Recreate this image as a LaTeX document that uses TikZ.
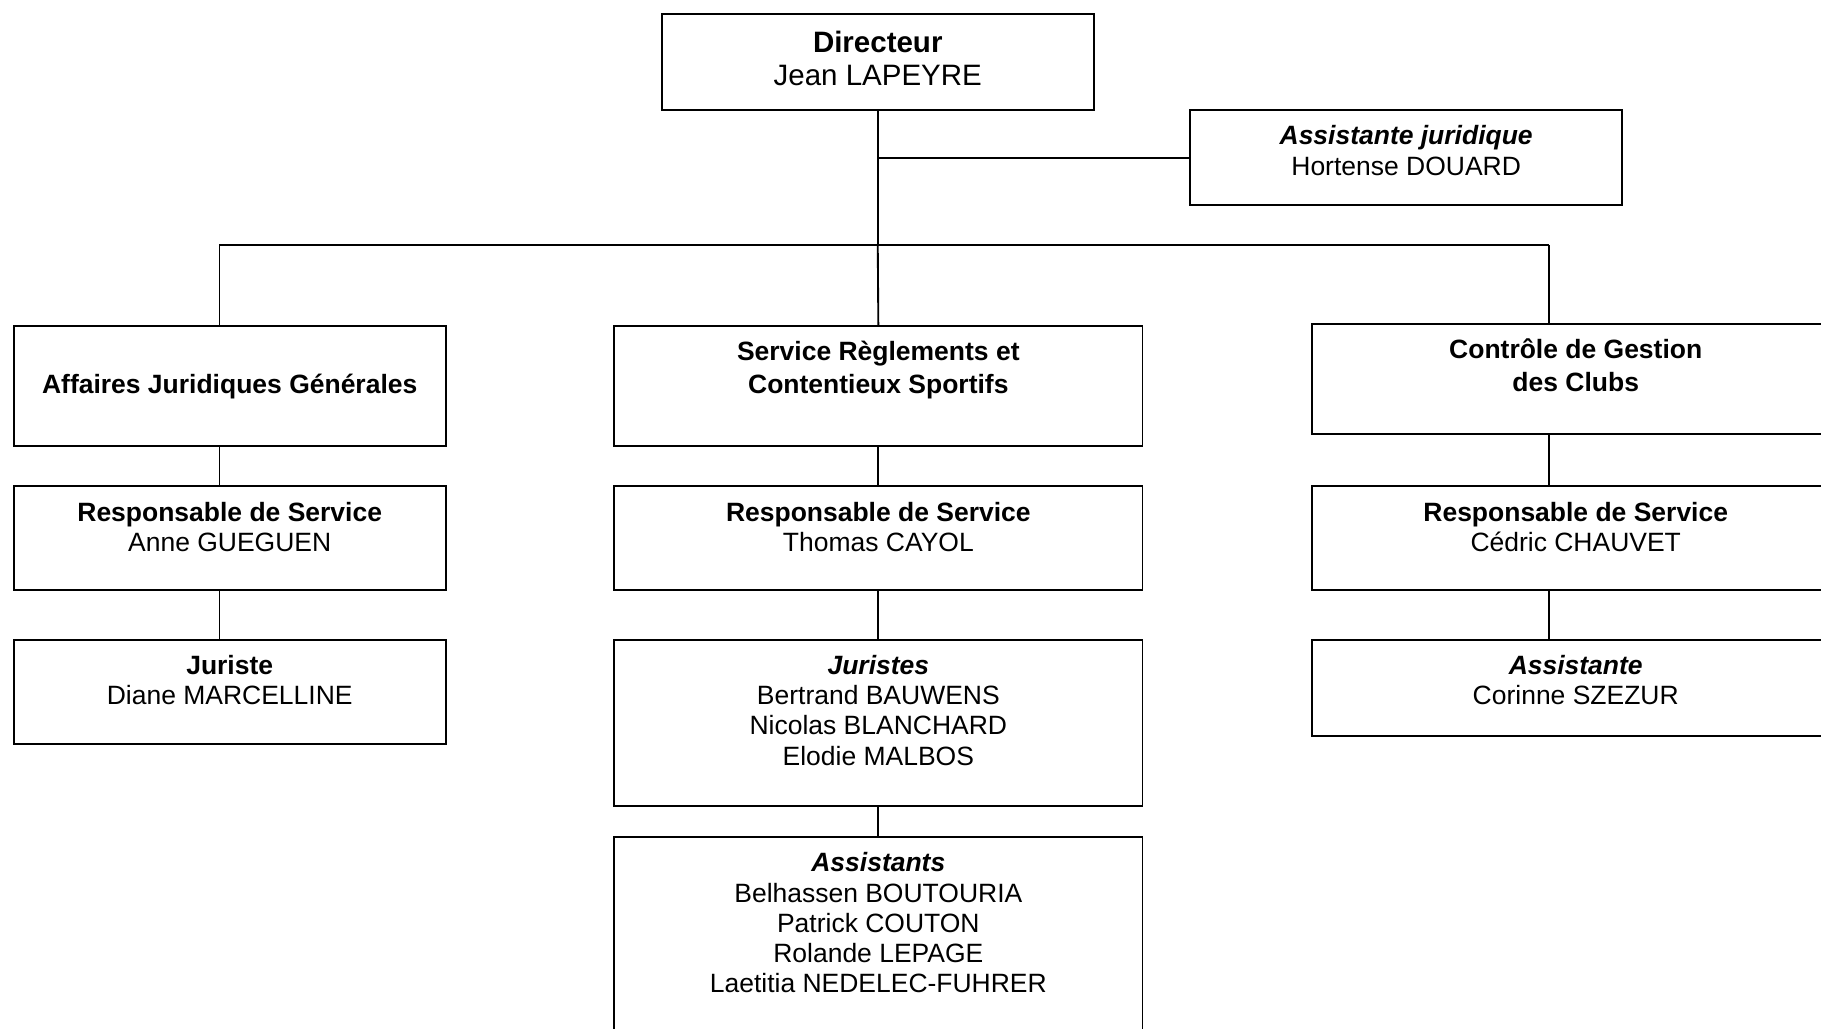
\documentclass[tikz,border=0pt]{standalone}
\usepackage{fontspec}
\setmainfont{Liberation Sans}
\newcommand{\cadre}[4][15pt]{\parbox[t][#3][t]{#2}{\centering\rule{0pt}{#1}#4}}
\tikzset{
  poste/.style={draw, line width=0.8pt, anchor=north west, inner sep=0pt,
    font=\fontsize{11.4pt}{13pt}\selectfont},
  lien/.style={line width=0.8pt},
}
\begin{document}
\begin{tikzpicture}[x=0.5pt,y=-0.5pt]
\useasboundingbox (0,0) rectangle (1568,886);
\clip (0,0) rectangle (1568,886);
% direction
\node[poste, font=\fontsize{12.7pt}{14.5pt}\selectfont] (dir) at (569,11) {\cadre[16.5pt]{186pt}{41.5pt}{\textbf{Directeur}\\Jean LAPEYRE}};
\node[poste] (asj) at (1024,94) {\cadre{186pt}{41pt}{\textbf{\textit{Assistante juridique}}\\Hortense DOUARD}};
% services
\node[poste] (ajg) at (11,280) {\cadre[29pt]{186pt}{51.5pt}{\textbf{Affaires Juridiques Générales}}};
\node[poste] (srcs) at (528,280) {\cadre{227.5pt}{51.5pt}{\textbf{Service Règlements et}\\[1pt]\textbf{Contentieux Sportifs}}};
\node[poste] (cgc) at (1129,278) {\cadre{227pt}{47.5pt}{\textbf{Contrôle de Gestion}\\[1pt]\textbf{des Clubs}}};
% responsables
\node[poste] (rs1) at (11,418) {\cadre{186pt}{44.5pt}{\textbf{Responsable de Service}\\Anne GUEGUEN}};
\node[poste] (rs2) at (528,418) {\cadre{227.5pt}{44.5pt}{\textbf{Responsable de Service}\\Thomas CAYOL}};
\node[poste] (rs3) at (1129,418) {\cadre{227pt}{44.5pt}{\textbf{Responsable de Service}\\Cédric CHAUVET}};
% equipes
\node[poste] (jur) at (11,550) {\cadre{186pt}{45pt}{\textbf{Juriste}\\Diane MARCELLINE}};
\node[poste] (jurs) at (528,550) {\cadre{227.5pt}{71.5pt}{\textbf{\textit{Juristes}}\\Bertrand BAUWENS\\Nicolas BLANCHARD\\Elodie MALBOS}};
\node[poste] (ass) at (1129,550) {\cadre{227pt}{41.5pt}{\textbf{\textit{Assistante}}\\Corinne SZEZUR}};
\node[poste] (asss) at (528,720) {\cadre{227.5pt}{90pt}{\textbf{\textit{Assistants}}\\Belhassen BOUTOURIA\\Patrick COUTON\\Rolande LEPAGE\\Laetitia NEDELEC-FUHRER}};
% liaisons
\coordinate (busL) at (189,211);
\coordinate (busR) at (1334,211);
\draw[lien] (dir.south) -- (dir.south |- busL);
\draw[lien] (dir.south |- asj.west) -- (asj.west);
\draw[lien] (busL) -- (busR);
\draw[lien] (busL) -- (busL |- ajg.north);
\draw[lien] (dir.south |- busL) -- (srcs.north);
\draw[lien] (busR) -- (busR |- cgc.north);
\draw[lien] (ajg.south -| busL) -- (rs1.north -| busL);
\draw[lien] (rs1.south -| busL) -- (jur.north -| busL);
\draw[lien] (srcs.south) -- (rs2.north);
\draw[lien] (rs2.south) -- (jurs.north);
\draw[lien] (jurs.south) -- (asss.north);
\draw[lien] (cgc.south -| busR) -- (rs3.north -| busR);
\draw[lien] (rs3.south -| busR) -- (ass.north -| busR);
\end{tikzpicture}
\end{document}
